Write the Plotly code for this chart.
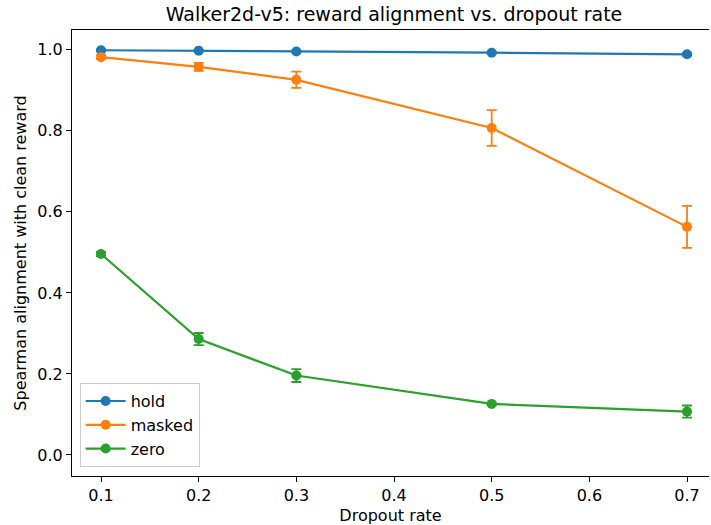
import plotly.graph_objects as go

dropout = [0.1, 0.2, 0.3, 0.5, 0.7]
hold_mean = [0.999, 0.998, 0.996, 0.993, 0.989]
hold_err = [0.002, 0.002, 0.002, 0.002, 0.003]
masked_mean = [0.982, 0.958, 0.926, 0.807, 0.563]
masked_err = [0.005, 0.010, 0.020, 0.044, 0.052]
zero_mean = [0.496, 0.286, 0.196, 0.126, 0.107]
zero_err = [0.005, 0.015, 0.016, 0.003, 0.015]

series = [
    ("hold", hold_mean, hold_err, "#1f77b4"),
    ("masked", masked_mean, masked_err, "#ff7f0e"),
    ("zero", zero_mean, zero_err, "#2ca02c"),
]

fig = go.Figure()
for name, m, e, c in series:
    fig.add_trace(go.Scatter(
        x=dropout, y=m, name=name, mode="lines+markers",
        line=dict(color=c, width=2.2),
        marker=dict(color=c, size=10),
        error_y=dict(type="data", array=e, visible=True, color=c, thickness=1.8, width=5),
    ))

font = "DejaVu Sans, sans-serif"
fig.update_layout(
    width=711, height=525,
    margin=dict(l=72, r=2, t=30, b=49, autoexpand=False),
    plot_bgcolor="white", paper_bgcolor="white",
    font=dict(family=font, size=16, color="black"),
    title=dict(text="Walker2d-v5: reward alignment vs. dropout rate",
               x=394/711, xanchor="center", y=1-14/525, yanchor="middle",
               font=dict(size=19)),
    showlegend=True,
    legend=dict(x=0.012, y=0.02, xanchor="left", yanchor="bottom",
                bgcolor="white", bordercolor="#cccccc", borderwidth=1,
                font=dict(size=16), itemwidth=40),
)
fig.update_xaxes(
    range=[0.0703, 0.7225], tickmode="array", tickvals=[0.1, 0.2, 0.3, 0.4, 0.5, 0.6, 0.7],
    tickformat=".1f", showgrid=False, zeroline=False, automargin=False,
    showline=True, linecolor="black", linewidth=1, mirror=True,
    ticks="outside", ticklen=5, tickcolor="black", tickfont=dict(size=16),
    title=dict(text="Dropout rate", standoff=5, font=dict(size=16)),
)
fig.update_yaxes(
    range=[-0.052, 1.049], tickmode="array", tickvals=[0.0, 0.2, 0.4, 0.6, 0.8, 1.0],
    tickformat=".1f", showgrid=False, zeroline=False, automargin=False,
    showline=True, linecolor="black", linewidth=1, mirror=False,
    ticks="outside", ticklen=5, tickcolor="black", tickfont=dict(size=16),
    title=dict(text="Spearman alignment with clean reward", standoff=6, font=dict(size=16)),
)
fig.write_html("out.html", config={"displayModeBar": False},
               post_script="document.body.style.margin='0px';")
